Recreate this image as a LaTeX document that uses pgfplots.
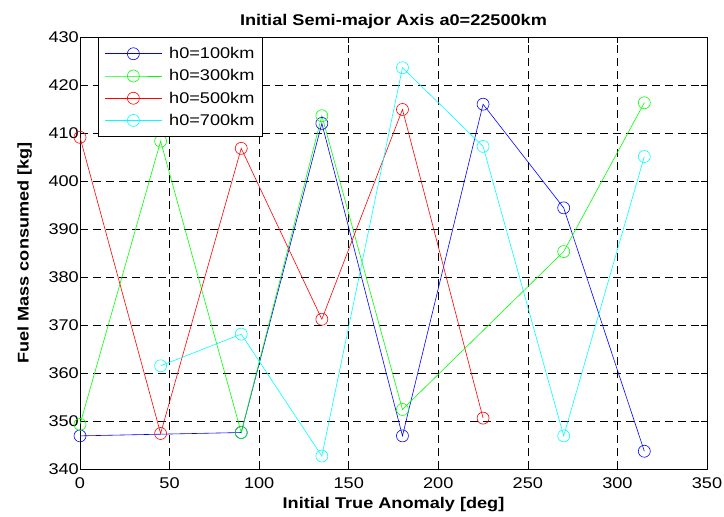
\documentclass[border=0pt]{standalone}
\usepackage{pgfplots}
\pgfplotsset{compat=1.18}
\usepackage{fontspec}
\setmainfont{Liberation Sans}
\newfontfamily\wide[FakeStretch=1.17]{Liberation Sans}
\newcommand{\mf}{\wide\fontsize{15.5}{18}\selectfont}
\begin{document}
\begin{tikzpicture}
\begin{axis}[
  scale only axis,
  width=627pt, height=432pt,
  xmin=0, xmax=350, ymin=340, ymax=430,
  xtick={0,50,...,350}, ytick={340,350,...,430},
  /pgf/number format/assume math mode=true,
  /pgf/number format/1000 sep={},
  tick label style={font=\mf, black, text height=11.1pt, text depth=0pt},
  yticklabel style={inner sep=1pt, xshift=0pt},
  xticklabel style={inner sep=1pt, yshift=-7pt},
  tick align=inside, tick pos=both,
  major tick length=6pt,
  every tick/.style={black, line width=0.6pt},
  axis line style={black, line width=0.8pt},
  grid=major,
  major grid style={black, dash pattern=on 8pt off 5pt, line width=0.6pt},
  title={\bfseries Initial Semi-major Axis a0=22500km},
  title style={font=\mf, yshift=-1pt},
  xlabel={\bfseries Initial True Anomaly [deg]},
  ylabel={\bfseries Fuel Mass consumed [kg]},
  label style={font=\mf},
  xlabel style={yshift=-4pt},
  ylabel style={yshift=12pt},
  legend style={at={(0.029,1)}, anchor=north west, draw=black, line width=0.8pt,
    font=\mf, row sep=5.5pt, inner xsep=6pt, inner ysep=8pt,
    /tikz/every odd column/.style={column sep=5pt},
    legend cell align=left},
  legend image code/.code={\draw[mark repeat=2,mark phase=2,line width=0.6pt] plot coordinates {(0pt,0pt)(28.5pt,0pt)(57pt,0pt)};},
  every axis plot/.append style={line width=0.6pt, mark=o, mark size=6pt, mark options={solid, line width=0.6pt}},
]
\addplot[color={rgb,1:red,0;green,0;blue,1}] coordinates {(0,346.9) (90,347.6) (135,412.0) (180,346.9) (225,416.0) (270,394.4) (315,343.7)};
\addlegendentry{h0=100km}
\addplot[color={rgb,1:red,0;green,1;blue,0}] coordinates {(0,349.3) (45,408.3) (90,347.6) (135,413.6) (180,352.4) (270,385.3) (315,416.3)};
\addlegendentry{h0=300km}
\addplot[color={rgb,1:red,1;green,0;blue,0}] coordinates {(0,409.1) (45,347.4) (90,406.8) (135,371.2) (180,414.9) (225,350.6)};
\addlegendentry{h0=500km}
\addplot[color={rgb,1:red,0;green,1;blue,1}] coordinates {(45,361.5) (90,368.1) (135,342.7) (180,423.6) (225,407.2) (270,346.9) (315,405.1)};
\addlegendentry{h0=700km}
\end{axis}
\pgfresetboundingbox
\path ([shift={(-80pt,-47pt)}]current axis.south west) rectangle ([shift={(17pt,37pt)}]current axis.north east);
\end{tikzpicture}
\end{document}
